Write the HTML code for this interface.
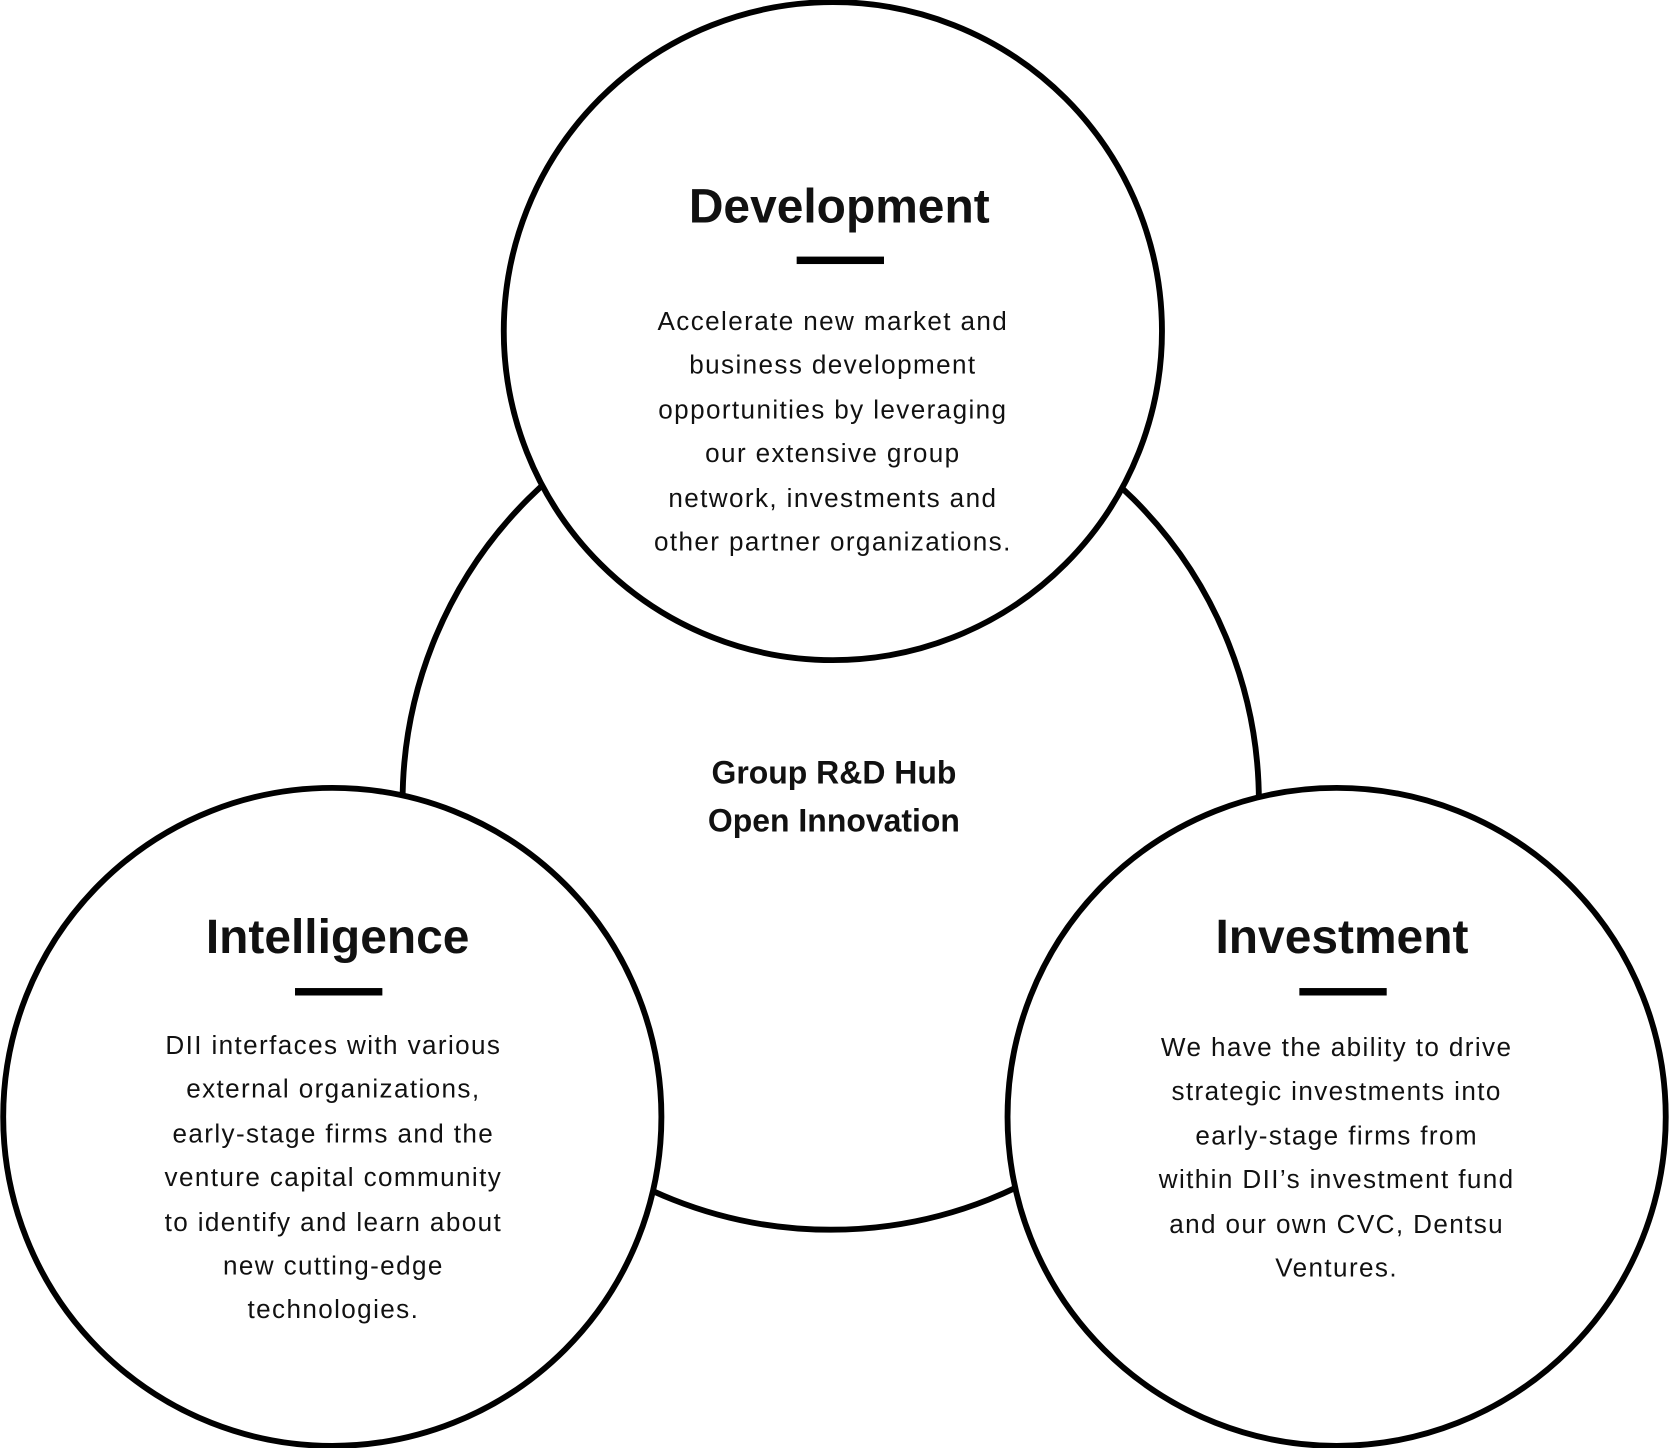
<!DOCTYPE html>
<html><head><meta charset="utf-8"><style>
html,body{margin:0;padding:0;background:#fff;}
svg{display:block;}
text{font-family:"Liberation Sans","Noto Sans CJK JP",sans-serif;fill:#111;}
.b{font-size:24.5px;letter-spacing:1.3px;}
.h{font-size:45px;font-weight:bold;}
.c{font-size:30px;font-weight:bold;}
</style></head><body>
<svg width="1670" height="1448" viewBox="0 0 1568 1360" preserveAspectRatio="none">
<g fill="#fff" stroke="#000" stroke-width="5.5">
<circle cx="780" cy="753" r="402"/>
<circle cx="782" cy="311" r="309"/>
<circle cx="312" cy="1049" r="309"/>
<circle cx="1255" cy="1049" r="309"/>
</g>
<g text-anchor="middle">
<text class="h" x="788" y="209">Development</text>
<rect x="748" y="241" width="82" height="7" fill="#000"/>
<text class="b" x="782" y="310">Accelerate new market and</text>
<text class="b" x="782" y="351">business development</text>
<text class="b" x="782" y="393">opportunities by leveraging</text>
<text class="b" x="782" y="434">our extensive group</text>
<text class="b" x="782" y="476">network, investments and</text>
<text class="b" x="782" y="517">other partner organizations.</text>

<text class="c" x="783" y="736">Group R&amp;D Hub</text>
<text class="c" x="783" y="781">Open Innovation</text>

<text class="h" x="317" y="895">Intelligence</text>
<rect x="277" y="928" width="82" height="7" fill="#000"/>
<text class="b" x="313" y="990">DII interfaces with various</text>
<text class="b" x="313" y="1031">external organizations,</text>
<text class="b" x="313" y="1073">early-stage firms and the</text>
<text class="b" x="313" y="1114">venture capital community</text>
<text class="b" x="313" y="1156">to identify and learn about</text>
<text class="b" x="313" y="1197">new cutting-edge</text>
<text class="b" x="313" y="1238">technologies.</text>

<text class="h" x="1260" y="895">Investment</text>
<rect x="1220" y="928" width="82" height="7" fill="#000"/>
<text class="b" x="1255" y="992">We have the ability to drive</text>
<text class="b" x="1255" y="1033">strategic investments into</text>
<text class="b" x="1255" y="1075">early-stage firms from</text>
<text class="b" x="1255" y="1116">within DII’s investment fund</text>
<text class="b" x="1255" y="1158">and our own CVC, Dentsu</text>
<text class="b" x="1255" y="1199">Ventures.</text>
</g>
</svg>
</body></html>
